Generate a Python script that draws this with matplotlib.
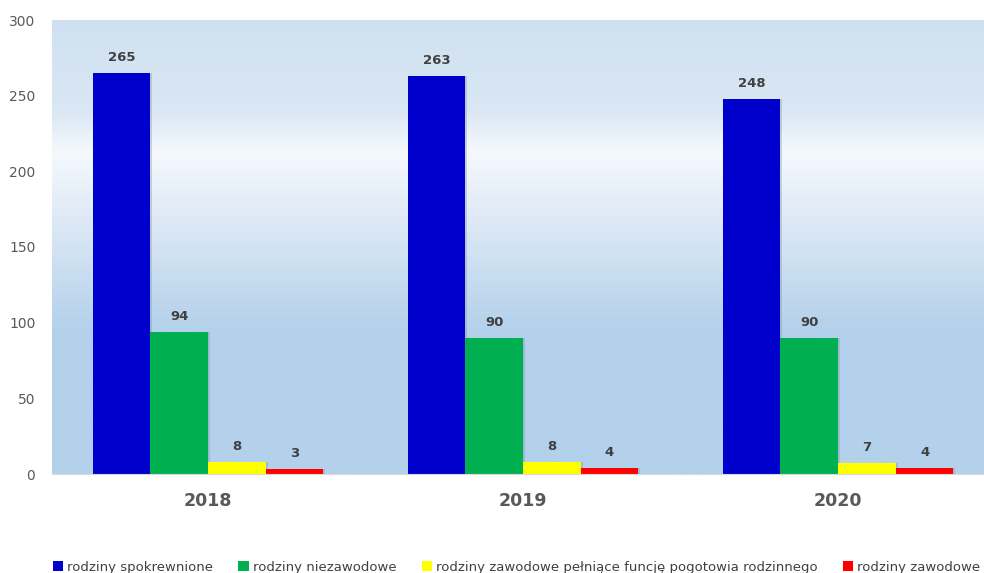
import numpy as np
import matplotlib.pyplot as plt
from matplotlib.colors import LinearSegmentedColormap

years = ["2018", "2019", "2020"]
series = ["rodziny spokrewnione", "rodziny niezawodowe",
          "rodziny zawodowe pełniące funcję pogotowia rodzinnego",
          "rodziny zawodowe"]
spokrewnione = [265, 263, 248]
niezawodowe = [94, 90, 90]
pogotowie = [8, 8, 7]
zawodowe = [3, 4, 4]
values = [spokrewnione, niezawodowe, pogotowie, zawodowe]
colors = ["#0000CC", "#00B050", "#FFFF00", "#FF0000"]

fig = plt.figure(figsize=(9.84, 5.73), dpi=100)
ax = fig.add_axes([52/984, 99/573, 1 - 52/984, 454/573])

x = np.arange(len(years))
w = 0.183
ax.set_xlim(-0.495, 2.463)
ax.set_ylim(0, 300)

# background gradient (bottom -> top)
bg = LinearSegmentedColormap.from_list("bg", [
    (0.0, "#b3d1ea"), (0.32, "#b4d1eb"), (0.55, "#dce8f5"),
    (0.71, "#f5f9fd"), (0.8, "#dae7f4"), (1.0, "#cfe1f1")])
grad = np.linspace(0, 1, 256).reshape(-1, 1)
ax.imshow(grad, cmap=bg, origin="lower", aspect="auto",
          extent=[-0.495, 2.463, 0, 300], zorder=0)

for i, (vals, c) in enumerate(zip(values, colors)):
    pos = x + (i - 1.5) * w
    # soft shadow
    ax.bar(pos + 0.006, vals, w, color="#7f8fa0", alpha=0.35, zorder=1)
    ax.bar(pos, vals, w, color=c, zorder=2, label=series[i])
    for p, v in zip(pos, vals):
        ax.text(p, v + 6, str(v), ha="center", va="bottom", fontsize=9.5,
                fontweight="bold", color="#404040", zorder=3)

ax.set_yticks(range(0, 301, 50))
ax.set_xticks(x)
ax.set_xticklabels(years, fontsize=12.5, fontweight="bold", color="#595959")
ax.tick_params(axis="y", labelsize=10, colors="#595959", length=0, pad=12)
ax.tick_params(axis="x", length=0, pad=13)
for s in ["top", "right", "left"]:
    ax.spines[s].set_visible(False)
ax.spines["bottom"].set_color("#d9d9d9")

fig.legend(loc="lower center", bbox_to_anchor=(0.525, -0.022), ncol=4,
           frameon=False, fontsize=9.5, handlelength=0.8, handleheight=0.8,
           handletextpad=0.3, columnspacing=1.9, labelcolor="#404040")

fig.savefig("out.png", dpi=100)
